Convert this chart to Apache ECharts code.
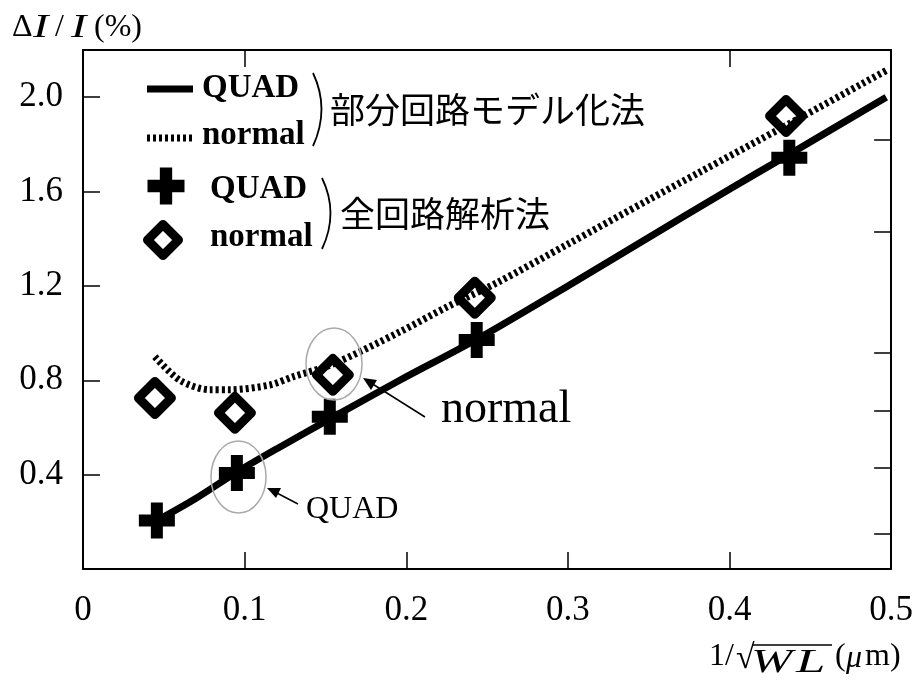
<!DOCTYPE html>
<html><head><meta charset="utf-8">
<script src="https://cdn.jsdelivr.net/npm/echarts@6/dist/echarts.min.js"></script>
<style>html,body{margin:0;padding:0;background:#fff}#c{width:916px;height:688px}</style>
</head><body><div id="c"></div>
<script>
// 全回路解析法 (markers)
const quadX = [0.0457, 0.0952, 0.1527, 0.2436, 0.437];
const quadY = [0.206, 0.407, 0.645, 0.971, 1.743];
const normalX = [0.0445, 0.094, 0.1546, 0.2424, 0.435];
const normalY = [0.725, 0.662, 0.823, 1.15, 1.92];
// 部分回路モデル化法 (curves)
const modelQuadX = [0.047, 0.07, 0.095, 0.12, 0.155, 0.196, 0.244, 0.3, 0.35, 0.4, 0.435, 0.497];
const modelQuadY = [0.21, 0.30, 0.41, 0.51, 0.645, 0.80, 0.975, 1.20, 1.405, 1.61, 1.75, 2.0];
const modelNormalX = [0.0445, 0.06, 0.0785, 0.091, 0.1156, 0.13, 0.155, 0.196, 0.225, 0.256, 0.3, 0.35, 0.381, 0.435, 0.498];
const modelNormalY = [0.90, 0.80, 0.76, 0.76, 0.78, 0.815, 0.87, 1.005, 1.11, 1.213, 1.377, 1.565, 1.68, 1.88, 2.117];
// axes
const xMin = 0, xMax = 0.5, xStep = 0.1;
const yMin = 0, yMax = 2.2, yStep = 0.4;
const topTicks = [0.1, 0.4];
const rightTicks = [0.15, 0.43, 0.67, 0.915, 1.43, 1.82];

const zip = (a, b) => a.map((v, i) => [v, b[i]]);
const SERIF = '"Liberation Serif","DejaVu Serif",serif';
const CJK = '"Noto Sans CJK JP","Noto Sans CJK SC",sans-serif';
const plusPath = 'path://M3,0H6V3H9V6H6V9H3V6H0V3H3Z';
function plusPoints(cx, cy, s) {
  const h = s / 2, a = s / 6;
  return [[cx - a, cy - h], [cx + a, cy - h], [cx + a, cy - a], [cx + h, cy - a], [cx + h, cy + a], [cx + a, cy + a],
          [cx + a, cy + h], [cx - a, cy + h], [cx - a, cy + a], [cx - h, cy + a], [cx - h, cy - a], [cx - a, cy - a]];
}
function txt(x, y, text, size, extra, el) {
  return Object.assign({type: 'text', x: x, y: y, z: 10,
    style: Object.assign({text: text, fontFamily: SERIF, fontSize: size, fill: '#000', align: 'left', verticalAlign: 'middle'}, extra || {})}, el || {});
}

const chart = echarts.init(document.getElementById('c'), null, {renderer: 'canvas'});
const axisLine = {show: true, onZero: false, lineStyle: {color: '#000', width: 2}};
chart.setOption({
  animation: false,
  backgroundColor: '#fff',
  grid: {left: 83, right: 24, top: 50, bottom: 119, containLabel: false},
  xAxis: [{
    type: 'value', min: xMin, max: xMax, interval: xStep, position: 'bottom',
    axisLine, splitLine: {show: false},
    axisTick: {inside: true, length: 17, lineStyle: {color: '#000', width: 1.5}},
    axisLabel: {color: '#000', fontFamily: SERIF, fontSize: 35, margin: 24,
      formatter: v => v === 0 ? '0' : v.toFixed(1)}
  }, {
    type: 'value', min: xMin, max: xMax, position: 'top',
    axisLine, splitLine: {show: false}, axisLabel: {show: false},
    axisTick: {inside: true, length: 17, customValues: topTicks, lineStyle: {color: '#000', width: 1.5}}
  }],
  yAxis: [{
    type: 'value', min: yMin, max: yMax, interval: yStep, position: 'left',
    axisLine, splitLine: {show: false},
    axisTick: {inside: true, length: 17, lineStyle: {color: '#000', width: 1.5}},
    axisLabel: {color: '#000', fontFamily: SERIF, fontSize: 35, margin: 20,
      showMinLabel: false, showMaxLabel: false,
      formatter: v => v.toFixed(1)}
  }, {
    type: 'value', min: yMin, max: yMax, position: 'right',
    axisLine, splitLine: {show: false}, axisLabel: {show: false},
    axisTick: {inside: true, length: 17, customValues: rightTicks, lineStyle: {color: '#000', width: 1.5}}
  }],
  series: [{
    name: 'QUAD (全回路解析法)', type: 'scatter', data: zip(quadX, quadY), z: 2,
    symbol: plusPath, symbolSize: 36, itemStyle: {color: '#000', opacity: 1}
  }, {
    name: 'normal (全回路解析法)', type: 'scatter', data: zip(normalX, normalY), z: 2,
    symbol: 'diamond', symbolSize: 33,
    itemStyle: {color: '#fff', borderColor: '#000', borderWidth: 9, borderJoin: 'round', opacity: 1}
  }, {
    name: 'QUAD (部分回路モデル化法)', type: 'line', data: zip(modelQuadX, modelQuadY), z: 3,
    smooth: 0.3, showSymbol: false, symbol: 'none',
    lineStyle: {color: '#000', width: 7, cap: 'butt'}
  }, {
    name: 'normal (部分回路モデル化法)', type: 'line', data: zip(modelNormalX, modelNormalY), z: 3,
    smooth: 0.3, showSymbol: false, symbol: 'none',
    lineStyle: {color: '#000', width: 7, type: [3, 3], cap: 'butt'}
  }],
  graphic: [
    // y axis title  ΔI/I(%)
    txt(12, 28, 'Δ', 32),
    txt(33, 28, 'I', 33, {fontStyle: 'italic'}, {scaleX: 1.4}),
    txt(55, 28, '/', 32),
    txt(71, 28, 'I', 33, {fontStyle: 'italic'}, {scaleX: 1.4}),
    txt(94, 28, '(%)', 32),
    // x axis title  1/√WL(μm)
    txt(709, 657, '1/', 32),
    txt(736, 659, '√', 34),
    {type: 'line', z: 10, shape: {x1: 752, y1: 645, x2: 832, y2: 645}, style: {stroke: '#000', lineWidth: 1.5}},
    txt(751, 663, 'W', 33, {fontStyle: 'italic'}, {scaleX: 1.5}),
    txt(796, 663, 'L', 33, {fontStyle: 'italic'}, {scaleX: 1.6}),
    txt(835, 657, '(', 32),
    txt(846, 659, 'μ', 32, {fontStyle: 'italic'}),
    txt(865, 657, 'm)', 32),
    // legend group 1
    {type: 'line', shape: {x1: 147, y1: 89, x2: 193, y2: 89}, style: {stroke: '#000', lineWidth: 7}},
    txt(202, 88, 'QUAD', 33, {fontWeight: 'bold'}),
    {type: 'line', shape: {x1: 147, y1: 138, x2: 192, y2: 138}, style: {stroke: '#000', lineWidth: 7, lineDash: [3, 3]}},
    txt(202, 135, 'normal', 33, {fontWeight: 'bold'}),
    {type: 'bezierCurve', shape: {x1: 313, y1: 73, x2: 313, y2: 146, cpx1: 330, cpy1: 109}, style: {stroke: '#000', lineWidth: 1.8, fill: null}},
    txt(330, 110, '部分回路モデル化法', 35, {fontFamily: CJK}),
    // legend group 2
    {type: 'polygon', shape: {points: plusPoints(166, 186, 37)}, style: {fill: '#000'}},
    {type: 'polygon', shape: {points: [[163, 224.5], [178.5, 240], [163, 255.5], [147.5, 240]]}, style: {fill: '#fff', stroke: '#000', lineWidth: 9, lineJoin: 'round'}},
    txt(210, 189, 'QUAD', 33, {fontWeight: 'bold'}),
    txt(210, 237, 'normal', 33, {fontWeight: 'bold'}),
    {type: 'bezierCurve', shape: {x1: 322, y1: 178, x2: 322, y2: 249, cpx1: 339, cpy1: 213}, style: {stroke: '#000', lineWidth: 1.8, fill: null}},
    txt(340, 214, '全回路解析法', 35, {fontFamily: CJK}),
    // annotations
    {type: 'ellipse', shape: {cx: 238.5, cy: 477, rx: 27.5, ry: 36}, style: {stroke: '#aaa', lineWidth: 1.5, fill: null}, z: 10},
    {type: 'ellipse', shape: {cx: 334, cy: 364, rx: 28, ry: 36}, style: {stroke: '#aaa', lineWidth: 1.5, fill: null}, z: 10},
    {type: 'line', shape: {x1: 298, y1: 504, x2: 275, y2: 492}, style: {stroke: '#000', lineWidth: 1.5}, z: 10},
    {type: 'polygon', shape: {points: [[267, 488], [281, 488], [276, 498]]}, style: {fill: '#000'}, z: 10},
    txt(306, 510, 'QUAD', 32),
    {type: 'line', shape: {x1: 425, y1: 417, x2: 371, y2: 383}, style: {stroke: '#000', lineWidth: 1.5}, z: 10},
    {type: 'polygon', shape: {points: [[363, 378], [377, 380], [371, 390]]}, style: {fill: '#000'}, z: 10},
    txt(441, 410, 'normal', 46)
  ]
});
</script></body></html>
